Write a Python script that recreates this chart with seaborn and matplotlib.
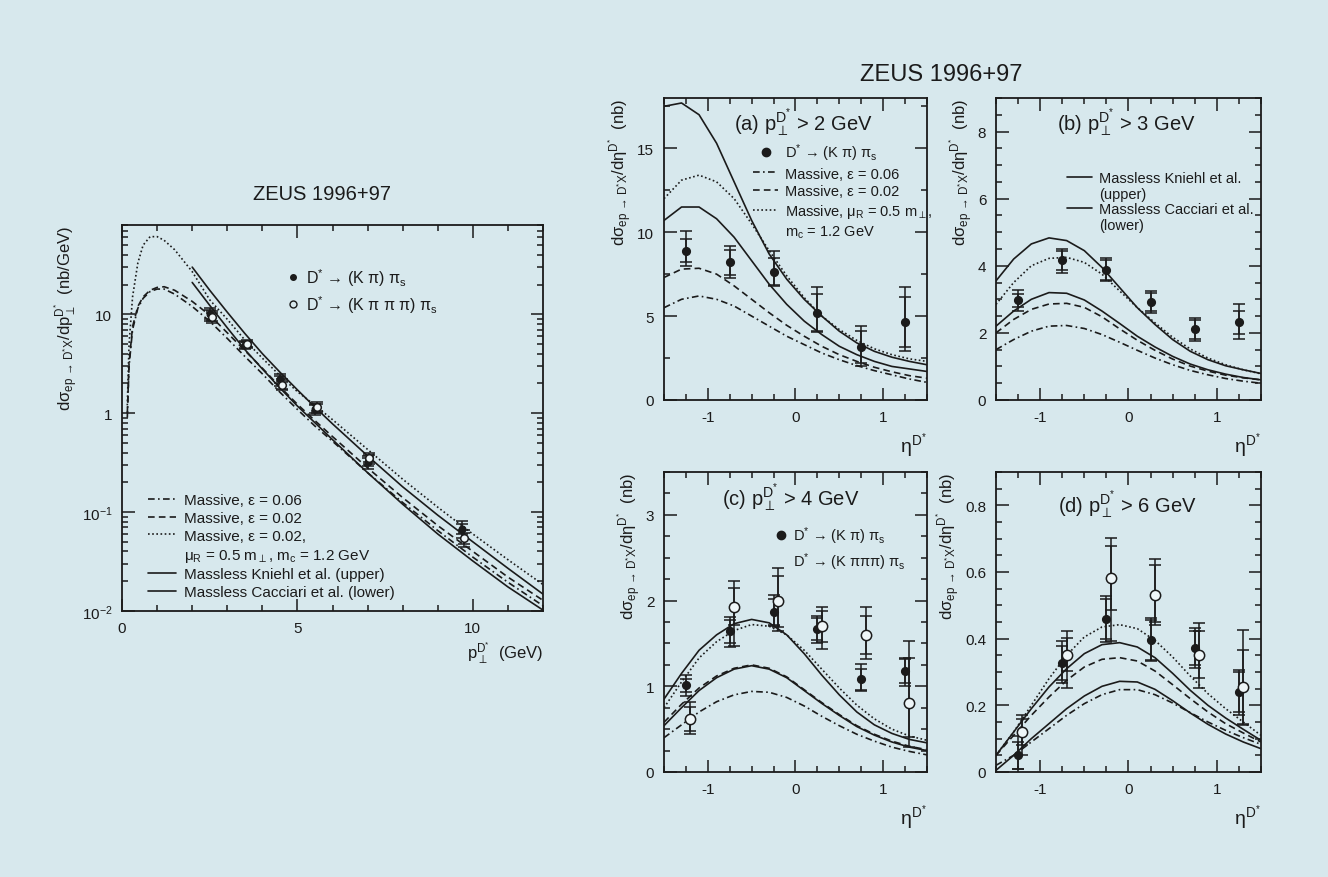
import numpy as np
import pandas as pd
import seaborn as sns
import matplotlib.pyplot as plt
from matplotlib.lines import Line2D
from matplotlib.ticker import MultipleLocator, LogLocator, NullFormatter, FuncFormatter

# ---------------- left plot: d sigma / d pT ----------------
pt_kpi = [2.5, 3.5, 4.5, 5.5, 7.0, 9.7]
xs_kpi = [10.0, 4.9, 2.2, 1.1, 0.32, 0.068]
xs_kpi_stat = [1.0, 0.3, 0.2, 0.1, 0.03, 0.008]
xs_kpi_tot = [1.5, 0.45, 0.3, 0.15, 0.045, 0.013]
pt_k3pi = [2.55, 3.55, 4.55, 5.55, 7.05, 9.75]
xs_k3pi = [9.4, 5.0, 1.95, 1.15, 0.35, 0.055]
xs_k3pi_stat = [0.9, 0.3, 0.18, 0.1, 0.03, 0.007]
xs_k3pi_tot = [1.3, 0.45, 0.25, 0.15, 0.045, 0.011]

pt_massive = [0.15, 0.2, 0.3, 0.45, 0.6, 0.8, 1.0, 1.2, 1.5, 2.0, 2.5, 3.0,
              3.5, 4.0, 4.5, 5.0, 5.5, 6.0, 7.0, 8.0, 9.0, 10.0, 11.0, 12.0]
pt_eps006 = [0.9, 3.0, 7.0, 11.5, 14.5, 17.0, 18.0, 18.0, 16.0, 12.0, 8.5, 5.7,
             3.75, 2.5, 1.63, 1.09, 0.74, 0.52, 0.25, 0.125, 0.065, 0.035, 0.0195, 0.0113]
pt_eps002 = [1.0, 3.2, 7.5, 12.0, 15.0, 17.5, 18.7, 19.0, 17.5, 13.5, 9.8, 6.5,
             4.3, 2.85, 1.85, 1.23, 0.84, 0.58, 0.28, 0.14, 0.073, 0.04, 0.022, 0.0128]
pt_mur = [1.2, 5.0, 15.0, 33.0, 50.0, 61.0, 61.0, 56.0, 45.0, 27.0, 14.0, 8.9,
          5.5, 3.6, 2.4, 1.65, 1.2, 0.86, 0.43, 0.215, 0.112, 0.06, 0.033, 0.0185]
pt_massless = [2.0, 2.5, 3.0, 3.5, 4.0, 4.5, 5.0, 5.5, 6.0, 7.0, 8.0, 9.0, 10.0, 11.0, 12.0]
pt_kniehl = [30, 17.5, 10.5, 6.4, 4.0, 2.6, 1.72, 1.15, 0.78, 0.37, 0.18, 0.093, 0.05, 0.027, 0.0148]
pt_cacciari = [21, 12.3, 7.3, 4.4, 2.8, 1.8, 1.18, 0.8, 0.54, 0.25, 0.12, 0.06, 0.032, 0.0175, 0.0102]

# ---------------- right panels: d sigma / d eta ----------------
eta = [-1.5, -1.3, -1.1, -0.9, -0.7, -0.5, -0.3, -0.1, 0.1, 0.3, 0.5, 0.7, 0.9, 1.1, 1.3, 1.5]
eta_kpi = [-1.25, -0.75, -0.25, 0.25, 0.75, 1.25]
eta_k3pi = [-1.2, -0.7, -0.2, 0.3, 0.8, 1.3]

# (a) pT > 2 GeV
a_kpi = [8.9, 8.2, 7.65, 5.2, 3.15, 4.65]
a_kpi_stat = [0.7, 0.75, 0.8, 1.1, 0.95, 1.5]
a_kpi_up = [1.15, 0.95, 1.2, 1.55, 1.25, 2.1]
a_kpi_dn = [0.9, 0.95, 0.85, 1.15, 1.15, 1.75]
a_eps006 = [5.5, 6.0, 6.2, 6.0, 5.6, 5.0, 4.4, 3.8, 3.3, 2.8, 2.4, 2.05, 1.75, 1.5, 1.25, 1.05]
a_eps002 = [7.3, 7.8, 7.85, 7.5, 6.8, 6.0, 5.2, 4.45, 3.8, 3.2, 2.7, 2.3, 1.95, 1.68, 1.45, 1.3]
a_mur = [12.0, 13.1, 13.4, 13.0, 12.0, 10.5, 8.9, 7.4, 6.1, 5.0, 4.2, 3.55, 3.05, 2.7, 2.45, 2.3]
a_kniehl = [17.5, 17.7, 17.0, 15.3, 13.0, 10.7, 8.7, 7.2, 6.0, 5.0, 4.1, 3.4, 2.9, 2.55, 2.3, 2.1]
a_cacciari = [10.7, 11.5, 11.5, 10.8, 9.7, 8.3, 6.9, 5.7, 4.7, 3.9, 3.2, 2.7, 2.3, 2.0, 1.85, 1.7]

# (b) pT > 3 GeV
b_kpi = [2.97, 4.16, 3.87, 2.92, 2.11, 2.31]
b_kpi_stat = [0.2, 0.28, 0.3, 0.28, 0.28, 0.35]
b_kpi_up = [0.3, 0.33, 0.36, 0.33, 0.32, 0.54]
b_kpi_dn = [0.31, 0.38, 0.33, 0.34, 0.35, 0.48]
b_eps006 = [1.5, 1.8, 2.05, 2.2, 2.22, 2.13, 1.95, 1.72, 1.48, 1.25, 1.05, 0.88, 0.75, 0.64, 0.56, 0.5]
b_eps002 = [2.0, 2.4, 2.7, 2.86, 2.88, 2.76, 2.48, 2.12, 1.78, 1.48, 1.22, 1.01, 0.86, 0.74, 0.66, 0.6]
b_mur = [2.85, 3.5, 4.0, 4.22, 4.25, 4.1, 3.75, 3.25, 2.75, 2.3, 1.87, 1.52, 1.25, 1.05, 0.9, 0.78]
b_kniehl = [3.55, 4.2, 4.65, 4.83, 4.75, 4.45, 3.95, 3.35, 2.75, 2.25, 1.8, 1.45, 1.2, 1.02, 0.9, 0.79]
b_cacciari = [2.2, 2.65, 3.0, 3.2, 3.18, 2.98, 2.65, 2.28, 1.9, 1.58, 1.3, 1.07, 0.9, 0.77, 0.67, 0.6]

# (c) pT > 4 GeV
c_kpi = [1.01, 1.64, 1.87, 1.67, 1.08, 1.18]
c_kpi_stat = [0.08, 0.13, 0.15, 0.13, 0.12, 0.14]
c_kpi_up = [0.12, 0.17, 0.2, 0.15, 0.18, 0.15]
c_kpi_dn = [0.12, 0.18, 0.17, 0.16, 0.14, 0.18]
c_k3pi = [0.62, 1.93, 1.99, 1.70, 1.60, 0.81]
c_k3pi_stat = [0.14, 0.22, 0.3, 0.18, 0.22, 0.52]
c_k3pi_up = [0.2, 0.3, 0.39, 0.22, 0.33, 0.72]
c_k3pi_dn = [0.18, 0.46, 0.34, 0.27, 0.28, 0.4]
c_eps006 = [0.4, 0.55, 0.7, 0.82, 0.9, 0.94, 0.93, 0.87, 0.77, 0.65, 0.54, 0.44, 0.36, 0.29, 0.24, 0.2]
c_eps002 = [0.58, 0.79, 0.98, 1.12, 1.21, 1.25, 1.21, 1.11, 0.96, 0.81, 0.67, 0.54, 0.44, 0.36, 0.3, 0.26]
c_mur = [0.75, 1.05, 1.33, 1.52, 1.65, 1.72, 1.7, 1.6, 1.42, 1.2, 0.98, 0.78, 0.62, 0.5, 0.42, 0.37]
c_kniehl = [0.85, 1.15, 1.42, 1.6, 1.73, 1.78, 1.74, 1.6, 1.38, 1.13, 0.9, 0.7, 0.55, 0.45, 0.38, 0.34]
c_cacciari = [0.54, 0.75, 0.95, 1.1, 1.2, 1.24, 1.2, 1.1, 0.95, 0.8, 0.66, 0.53, 0.43, 0.35, 0.29, 0.25]

# (d) pT > 6 GeV
d_kpi = [0.05, 0.327, 0.459, 0.397, 0.372, 0.24]
d_kpi_stat = [0.04, 0.05, 0.06, 0.06, 0.05, 0.06]
d_kpi_up = [0.058, 0.065, 0.07, 0.065, 0.06, 0.065]
d_kpi_dn = [0.04, 0.06, 0.07, 0.065, 0.06, 0.07]
d_k3pi = [0.12, 0.352, 0.582, 0.53, 0.352, 0.255]
d_k3pi_stat = [0.04, 0.05, 0.095, 0.09, 0.07, 0.11]
d_k3pi_up = [0.05, 0.07, 0.12, 0.11, 0.095, 0.17]
d_k3pi_dn = [0.07, 0.1, 0.19, 0.08, 0.1, 0.115]
d_eps006 = [0.02, 0.05, 0.09, 0.13, 0.17, 0.205, 0.232, 0.247, 0.247, 0.232, 0.207, 0.178, 0.15, 0.125, 0.103, 0.083]
d_eps002 = [0.05, 0.11, 0.17, 0.225, 0.275, 0.315, 0.338, 0.343, 0.333, 0.303, 0.262, 0.22, 0.18, 0.145, 0.117, 0.09]
d_mur = [0.05, 0.12, 0.2, 0.28, 0.35, 0.405, 0.435, 0.442, 0.43, 0.395, 0.345, 0.288, 0.235, 0.19, 0.15, 0.11]
d_kniehl = [0.05, 0.12, 0.19, 0.255, 0.31, 0.355, 0.382, 0.388, 0.375, 0.343, 0.296, 0.245, 0.2, 0.162, 0.128, 0.095]
d_cacciari = [0.005, 0.05, 0.1, 0.145, 0.19, 0.228, 0.257, 0.272, 0.27, 0.248, 0.214, 0.177, 0.143, 0.114, 0.09, 0.07]

BG = "#d7e8ed"
INK = "#1b1b1b"
LS_EPS006 = (0, (4, 2, 1, 2))
LS_EPS002 = (0, (4, 2.5))
LS_MUR = (0, (1, 1.5))

sns.set_style("ticks")
plt.rcParams["font.family"] = ["Liberation Sans", "DejaVu Sans"]
plt.rcParams["mathtext.fontset"] = "custom"
plt.rcParams["mathtext.rm"] = "Liberation Sans"
plt.rcParams["mathtext.it"] = "Liberation Sans:italic"
plt.rcParams["mathtext.sf"] = "Liberation Sans"
plt.rcParams["axes.unicode_minus"] = False
plt.rcParams["text.color"] = INK
plt.rcParams["axes.labelcolor"] = INK

fig = plt.figure(figsize=(13.28, 8.78), dpi=100, facecolor=BG)


def style(ax):
    ax.set_facecolor("none")
    ax.tick_params(which="both", direction="in", top=True, right=True,
                   colors=INK, labelsize=11, width=1.1, pad=7)
    ax.tick_params(which="major", length=9)
    ax.tick_params(which="minor", length=4.5)
    for s in ax.spines.values():
        s.set_color(INK)
        s.set_linewidth(1.3)
        s.set_visible(True)


def curve(ax, x, y, ls):
    sns.lineplot(x=x, y=y, ax=ax, color=INK, linestyle=ls, linewidth=1.2,
                 estimator=None, sort=False, legend=False)


def points(ax, x, y, stat, up, dn, filled, size):
    ax.errorbar(x, y, yerr=[dn, up], fmt="none", ecolor=INK, elinewidth=1.1,
                capsize=4, capthick=1.1, zorder=4)
    ax.errorbar(x, y, yerr=stat, fmt="none", ecolor=INK, elinewidth=1.1,
                capsize=4, capthick=1.1, zorder=4)
    sns.scatterplot(x=x, y=y, ax=ax, marker="o", s=size,
                    color=INK if filled else "#eef6f8", edgecolor=INK,
                    linewidth=1.1, zorder=5, legend=False)


def blank():
    return Line2D([], [], linestyle="none")


def tick_fmt(v, _):
    return "0" if abs(v) < 1e-9 else f"{v:g}"


DSTAR = r"$^{\rm D^{*}}$"
YLAB_ETA = r"dσ$_{\rm ep\,\rightarrow\,D^{*}X}$/dη" + DSTAR + "  (nb)"
YLAB_PT = r"dσ$_{\rm ep\,\rightarrow\,D^{*}X}$/dp$_{\perp}^{\rm D^{*}}$  (nb/GeV)"

# ---------------- left plot ----------------
ax = fig.add_axes([0.0919, 0.303, 0.317, 0.4396])
style(ax)
curve(ax, pt_massive, pt_eps006, LS_EPS006)
curve(ax, pt_massive, pt_eps002, LS_EPS002)
curve(ax, pt_massive, pt_mur, LS_MUR)
curve(ax, pt_massless, pt_kniehl, "-")
curve(ax, pt_massless, pt_cacciari, "-")
points(ax, pt_kpi, xs_kpi, xs_kpi_stat, xs_kpi_tot, xs_kpi_tot, True, 22)
points(ax, pt_k3pi, xs_k3pi, xs_k3pi_stat, xs_k3pi_tot, xs_k3pi_tot, False, 30)
ax.set_yscale("log")
ax.set_xlim(0, 12)
ax.set_ylim(0.01, 80)
ax.xaxis.set_major_locator(MultipleLocator(5))
ax.xaxis.set_minor_locator(MultipleLocator(1))
ax.set_yticks([0.01, 0.1, 1, 10])
ax.set_yticklabels(["$10^{-2}$", "$10^{-1}$", "1", "10"])
ax.yaxis.set_minor_locator(LogLocator(base=10, subs=np.arange(2, 10)))
ax.yaxis.set_minor_formatter(NullFormatter())
ax.set_xlabel(r"p$_{\perp}^{\rm D^{*}}$  (GeV)", loc="right", fontsize=12, labelpad=4)
ax.set_ylabel(YLAB_PT, loc="top", fontsize=12, labelpad=1)

h_data = [Line2D([], [], marker="o", ls="none", color=INK, ms=4),
          Line2D([], [], marker="o", ls="none", mfc="none", mec=INK, ms=5)]
l_data = [r"D$^{*}$ → (K π) π$_{\rm s}$", r"D$^{*}$ → (K π π π) π$_{\rm s}$"]
leg1 = ax.legend(h_data, l_data, loc="upper left", bbox_to_anchor=(0.36, 0.93),
                 frameon=False, fontsize=11.5, handlelength=0.6, handletextpad=0.5,
                 labelspacing=0.3)
ax.add_artist(leg1)
h_lines = [Line2D([], [], color=INK, ls=LS_EPS006, lw=1.2),
           Line2D([], [], color=INK, ls=LS_EPS002, lw=1.2),
           Line2D([], [], color=INK, ls=LS_MUR, lw=1.2),
           blank(),
           Line2D([], [], color=INK, ls="-", lw=1.2),
           Line2D([], [], color=INK, ls="-", lw=1.2)]
l_lines = ["Massive, ε = 0.06", "Massive, ε = 0.02", "Massive, ε = 0.02,",
           r"μ$_{\rm R}$ = 0.5 m$_{\perp}$, m$_{\rm c}$ = 1.2 GeV",
           "Massless Kniehl et al. (upper)", "Massless Cacciari et al. (lower)"]
ax.legend(h_lines, l_lines, loc="lower left", bbox_to_anchor=(0.03, -0.005),
          frameon=False, fontsize=11, handlelength=1.8, handletextpad=0.5,
          labelspacing=0.25)
fig.text(0.2425, 0.778, "ZEUS 1996+97", ha="center", va="center", fontsize=14.5)

# ---------------- right panels ----------------
panels = [
    ("(a)", 2, [0.5, 0.5433, 0.198, 0.344], 18, 5, 2.5,
     a_eps006, a_eps002, a_mur, a_kniehl, a_cacciari,
     (a_kpi, a_kpi_stat, a_kpi_up, a_kpi_dn), None, (0.53, 0.92)),
    ("(b)", 3, [0.75, 0.5433, 0.1995, 0.344], 9, 2, 0.5,
     b_eps006, b_eps002, b_mur, b_kniehl, b_cacciari,
     (b_kpi, b_kpi_stat, b_kpi_up, b_kpi_dn), None, (0.49, 0.92)),
    ("(c)", 4, [0.5, 0.1196, 0.198, 0.3417], 3.5, 1, 0.25,
     c_eps006, c_eps002, c_mur, c_kniehl, c_cacciari,
     (c_kpi, c_kpi_stat, c_kpi_up, c_kpi_dn),
     (c_k3pi, c_k3pi_stat, c_k3pi_up, c_k3pi_dn), (0.48, 0.917)),
    ("(d)", 6, [0.75, 0.1196, 0.1995, 0.3417], 0.9, 0.2, 0.05,
     d_eps006, d_eps002, d_mur, d_kniehl, d_cacciari,
     (d_kpi, d_kpi_stat, d_kpi_up, d_kpi_dn),
     (d_k3pi, d_k3pi_stat, d_k3pi_up, d_k3pi_dn), (0.494, 0.893)),
]

axes = {}
for (tag, ptcut, pos, ymax, ymaj, ymin, e06, e02, mur, kn, ca,
     kpi, k3pi, tpos) in panels:
    ax = fig.add_axes(pos)
    style(ax)
    axes[tag] = ax
    curve(ax, eta, e06, LS_EPS006)
    curve(ax, eta, e02, LS_EPS002)
    curve(ax, eta, mur, LS_MUR)
    curve(ax, eta, kn, "-")
    curve(ax, eta, ca, "-")
    points(ax, eta_kpi, kpi[0], kpi[1], kpi[2], kpi[3], True, 30)
    if k3pi is not None:
        points(ax, eta_k3pi, k3pi[0], k3pi[1], k3pi[2], k3pi[3], False, 55)
    ax.set_xlim(-1.5, 1.5)
    ax.set_ylim(0, ymax)
    ax.xaxis.set_major_locator(MultipleLocator(1))
    ax.xaxis.set_minor_locator(MultipleLocator(0.25))
    ax.yaxis.set_major_locator(MultipleLocator(ymaj))
    ax.yaxis.set_minor_locator(MultipleLocator(ymin))
    ax.xaxis.set_major_formatter(FuncFormatter(tick_fmt))
    ax.yaxis.set_major_formatter(FuncFormatter(tick_fmt))
    ax.set_xlabel("η" + DSTAR, loc="right", fontsize=14, labelpad=5)
    ax.set_ylabel(YLAB_ETA, loc="top", fontsize=12, labelpad=2)
    ax.text(tpos[0], tpos[1], tag + r" p$_{\perp}^{\rm D^{*}}$ > " + f"{ptcut} GeV",
            transform=ax.transAxes, ha="center", va="center", fontsize=14.5)

ax = axes["(a)"]
h = [Line2D([], [], marker="o", ls="none", color=INK, ms=6),
     Line2D([], [], color=INK, ls=LS_EPS006, lw=1.2),
     Line2D([], [], color=INK, ls=LS_EPS002, lw=1.2),
     Line2D([], [], color=INK, ls=LS_MUR, lw=1.2),
     blank()]
l = [r"D$^{*}$ → (K π) π$_{\rm s}$", "Massive, ε = 0.06", "Massive, ε = 0.02",
     r"Massive, μ$_{\rm R}$ = 0.5 m$_{\perp}$,", r"m$_{\rm c}$ = 1.2 GeV"]
ax.legend(h, l, loc="upper left", bbox_to_anchor=(0.29, 0.9), frameon=False,
          fontsize=10.5, handlelength=1.7, handletextpad=0.5, labelspacing=0.25)

ax = axes["(b)"]
h = [Line2D([], [], color=INK, ls="-", lw=1.2), blank(),
     Line2D([], [], color=INK, ls="-", lw=1.2), blank()]
l = ["Massless Kniehl et al.", "(upper)", "Massless Cacciari et al.", "(lower)"]
ax.legend(h, l, loc="upper left", bbox_to_anchor=(0.22, 0.8), frameon=False,
          fontsize=10.5, handlelength=1.7, handletextpad=0.5, labelspacing=0.1)

ax = axes["(c)"]
h = [Line2D([], [], marker="o", ls="none", color=INK, ms=6), blank()]
l = [r"D$^{*}$ → (K π) π$_{\rm s}$", r"D$^{*}$ → (K πππ) π$_{\rm s}$"]
ax.legend(h, l, loc="upper left", bbox_to_anchor=(0.38, 0.87), frameon=False,
          fontsize=10.5, handlelength=0.6, handletextpad=0.5, labelspacing=0.3)

fig.text(0.7086, 0.9146, "ZEUS 1996+97", ha="center", va="center", fontsize=17)

fig.savefig("out.png", dpi=100, facecolor=BG)
